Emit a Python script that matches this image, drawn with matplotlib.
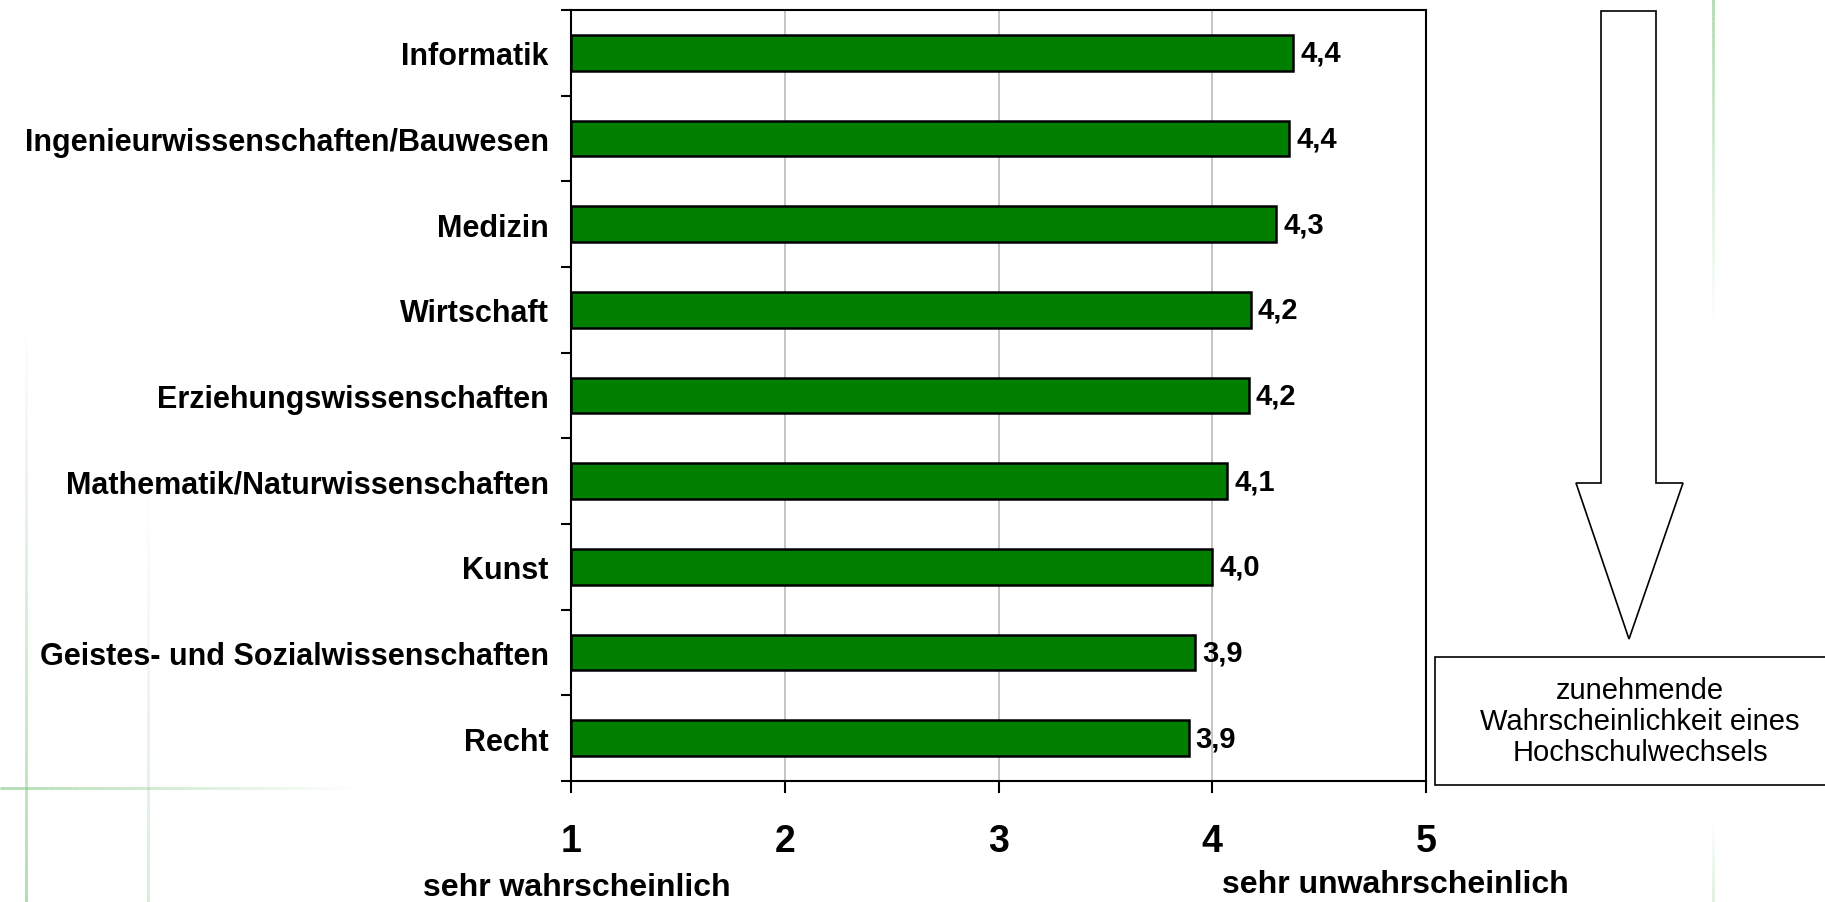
import numpy as np
import matplotlib
matplotlib.use("Agg")
import matplotlib.pyplot as plt
from matplotlib.collections import LineCollection
from matplotlib.patches import Polygon, Rectangle

# Fachrichtungen (oben nach unten) und mittlere Bewertung (1 = sehr wahrscheinlich, 5 = sehr unwahrscheinlich)
faecher = ["Informatik",
           "Ingenieurwissenschaften/Bauwesen",
           "Medizin",
           "Wirtschaft",
           "Erziehungswissenschaften",
           "Mathematik/Naturwissenschaften",
           "Kunst",
           "Geistes- und Sozialwissenschaften",
           "Recht"]
mittelwerte = [4.38, 4.36, 4.30, 4.18, 4.17, 4.07, 4.00, 3.92, 3.89]
skala = [1, 2, 3, 4, 5]
pol_links = "sehr wahrscheinlich"
pol_rechts = "sehr unwahrscheinlich"
hinweis = "zunehmende\nWahrscheinlichkeit eines\nHochschulwechsels"

W, H = 1825, 903
DPI = 100
GREEN = "#007f00"
DECO = (0.55, 0.80, 0.55)

plt.rcParams["font.family"] = ["Liberation Sans", "DejaVu Sans"]


def px(x, y):
    """Pixel position (from top left) to figure fraction."""
    return x / W, 1 - y / H


def fading_line(fig, p0, p1, a0, a1, lw=2.0, n=60):
    """Thin decorative line whose alpha runs from a0 to a1."""
    xs = np.linspace(p0[0], p1[0], n + 1)
    ys = np.linspace(p0[1], p1[1], n + 1)
    segs = [[px(xs[i], ys[i]), px(xs[i + 1], ys[i + 1])] for i in range(n)]
    alphas = np.linspace(a0, a1, n)
    cols = [(*DECO, a) for a in alphas]
    lc = LineCollection(segs, colors=cols, linewidths=lw,
                        transform=fig.transFigure, zorder=0)
    fig.add_artist(lc)


def main():
    fig = plt.figure(figsize=(W / DPI, H / DPI), dpi=DPI)

    # Background template lines
    fading_line(fig, (26, 320), (26, 903), 0.0, 0.7)
    fading_line(fig, (148, 490), (148, 903), 0.0, 0.35)
    fading_line(fig, (0, 789), (360, 789), 0.7, 0.0)
    fading_line(fig, (1713, 0), (1713, 330), 0.7, 0.0)
    fading_line(fig, (1713, 820), (1713, 903), 0.0, 0.3)

    l, b = px(571, 782)
    r, t = px(1426, 11)
    ax = fig.add_axes([l, b, r - l, t - b])

    n = len(faecher)
    pos = np.arange(n)
    werte = np.array(mittelwerte)
    ax.barh(pos, werte - 1, left=1, height=0.42, color=GREEN,
            edgecolor="black", linewidth=1.8, zorder=3)

    for y, v in zip(pos, werte):
        ax.annotate(f"{v:.1f}".replace(".", ","), xy=(v, y),
                    xytext=(5, 0), textcoords="offset points",
                    ha="left", va="center", fontsize=21,
                    fontweight="bold", zorder=4)

    ax.set_xlim(skala[0], skala[-1])
    ax.set_ylim(n - 0.5, -0.5)

    ax.set_xticks(skala)
    ax.set_xticklabels([str(s) for s in skala], fontsize=27,
                       fontweight="bold")
    ax.tick_params(axis="x", direction="out", length=8.5, width=1.5,
                   pad=22)

    ax.set_yticks(pos)
    ax.set_yticklabels(faecher, fontsize=22, fontweight="bold")
    ax.set_yticks(np.arange(-0.5, n, 1.0), minor=True)
    ax.tick_params(axis="y", which="major", length=0, pad=16)
    ax.tick_params(axis="y", which="minor", direction="out", length=7,
                   width=1.5)

    ax.grid(axis="x", color="#c0c0c0", linewidth=1.3, zorder=0)
    ax.set_axisbelow(True)
    for s in ax.spines.values():
        s.set_linewidth(1.5)

    fig.text(*px(577, 896), pol_links, ha="center", va="baseline",
             fontsize=23, fontweight="bold")
    fig.text(*px(1395, 893), pol_rechts, ha="center", va="baseline",
             fontsize=23, fontweight="bold")

    # Arrow pointing down
    arrow = [px(1601, 12), px(1656, 12), px(1656, 484), px(1683, 484),
             px(1629, 640), px(1576, 484), px(1601, 484)]
    fig.add_artist(Polygon(arrow, closed=True, facecolor="white",
                           edgecolor="black", linewidth=1.2,
                           transform=fig.transFigure))

    bx0, by0 = px(1435, 786)
    bx1, by1 = px(1830, 658)
    fig.add_artist(Rectangle((bx0, by0), bx1 - bx0, by1 - by0,
                             facecolor="white", edgecolor="black",
                             linewidth=1.2, transform=fig.transFigure))
    fig.text(*px(1640, 722), hinweis, ha="center", va="center",
             fontsize=21, linespacing=1.15)

    fig.savefig("out.png", dpi=DPI)


if __name__ == "__main__":
    main()
